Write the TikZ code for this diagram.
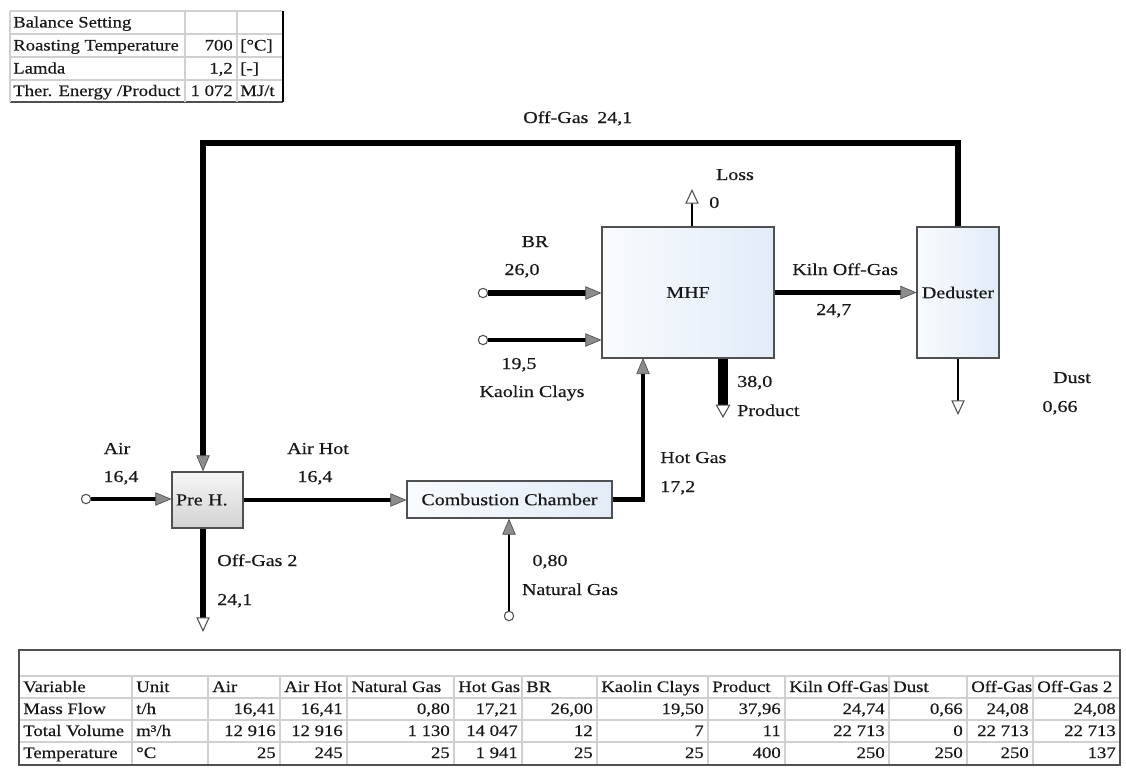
\documentclass[tikz,border=0pt]{standalone}
\usepackage{fontspec}
\setmainfont{Liberation Serif}[FakeStretch=1.2, FakeBold=0.4]
\newfontfamily\tabfont{Liberation Serif}[FakeStretch=1.17, FakeBold=0.4]
\usetikzlibrary{arrows.meta}
\definecolor{edgec}{HTML}{505050}
\definecolor{tipfill}{HTML}{8C8C8C}
\definecolor{gridc}{HTML}{D0D0D0}
\definecolor{blueL}{HTML}{F8FBFE}
\definecolor{blueR}{HTML}{E2ECF7}
\definecolor{greyT}{HTML}{F6F6F6}
\definecolor{greyB}{HTML}{D2D2D2}
\definecolor{txt}{HTML}{181818}
\begin{document}
\begin{tikzpicture}[x=0.75pt,y=-0.75pt, font=\fontsize{12.5}{14}\selectfont, text=txt,
 unitbox/.style={draw=edgec, line width=0.9pt, inner sep=0pt, left color=blueL, right color=blueR},
 greybox/.style={draw=edgec, line width=0.9pt, inner sep=0pt, top color=greyT, bottom color=greyB},
 flow/.style={draw=black, line width=#1},
 intip/.style={-{Triangle[length=12pt,width=10pt,fill=tipfill,color=edgec,line width=0.5pt]}},
 outtip/.style={-{Triangle[length=11pt,width=10pt,fill=white,color=edgec,line width=0.8pt]}},
 bigouttip/.style={-{Triangle[length=10pt,width=11pt,fill=white,color=edgec,line width=0.8pt]}},
 src/.style={circle, draw=edgec, fill=white, line width=0.8pt, minimum size=7pt, inner sep=0pt},
 lbl/.style={inner sep=0pt, text height=8pt, text depth=0.5pt},
 tlbl/.style={lbl, font=\tabfont\fontsize{12}{14}\selectfont},
]
\useasboundingbox (0,0) rectangle (1126,767);

% ---------- top-left table ----------
\foreach \yy in {11,34,57,80} \draw[gridc, line width=0.8pt] (10,\yy) -- (283,\yy);
\draw[edgec, line width=1pt] (10,102) -- (283,102);
\foreach \xx in {10,185,237} \draw[gridc, line width=0.8pt] (\xx,11) -- (\xx,102);
\draw[black, line width=1.3pt] (283,11) -- (283,102);
\node[tlbl, anchor=west] (bs) at (13,22.5) {Balance Setting};
\node[tlbl, anchor=west] (rt) at (13,45.5) {Roasting Temperature};
\node[tlbl, anchor=east] (rtv) at (233,45.5) {700};
\node[tlbl, anchor=west] (rtu) at (240,45.5) {[°C]};
\node[tlbl, anchor=west] (la) at (13,68.5) {Lamda};
\node[tlbl, anchor=east] (lav) at (233,68.5) {1,2};
\node[tlbl, anchor=west] (lau) at (240,68.5) {[-]};
\node[tlbl, anchor=west] (te) at (13,91) {Ther. Energy /Product};
\node[tlbl, anchor=east] (tev) at (233,91) {1 072};
\node[tlbl, anchor=west] (teu) at (240,91) {MJ/t};

% ---------- units ----------
\node[greybox, minimum height=42pt, text width=47.25pt, inner xsep=3pt, align=left] (preh) at (207.5,500) {Pre H.};
\node[unitbox, minimum width=153.75pt, minimum height=27.75pt] (cc) at (509.5,499.5) {Combustion Chamber};
\node[unitbox, minimum width=129pt, minimum height=98.25pt] (mhf) at (688,292.5) {MHF};
\node[unitbox, minimum width=61.5pt, minimum height=98.25pt] (dedust) at (958,292.5) {Deduster};

% ---------- sources and free ends ----------
\node[src] (air) at (86,499) {};
\node[src] (br) at (483,293) {};
\node[src] (kaolin) at (483,340) {};
\node[src] (ng) at (509,616) {};
\coordinate (topL) at (203,143);
\coordinate (og2end) at (203,632);
\coordinate (hgin) at (643,358);
\coordinate (lossend) at (692,189);
\coordinate (prodend) at (723,418);
\coordinate (dustend) at (958,415);

% ---------- connectors ----------
\draw[flow=2.6pt, intip] (air) -- (air -| preh.west);
\draw[flow=2.6pt, intip] (preh.east) -- (preh.east -| cc.west);
\draw[flow=4.5pt, intip] (dedust.north) |- (topL) -- (preh.north -| topL);
\draw[flow=4.5pt, outtip] (preh.south -| topL) -- (og2end);
\draw[flow=1.5pt, intip] (ng) -- (ng |- cc.south);
\draw[flow=3.4pt, intip] (cc.east) -| (hgin);
\draw[flow=5pt, intip] (br) -- (br -| mhf.west);
\draw[flow=3pt, intip] (kaolin) -- (kaolin -| mhf.west);
\draw[flow=1.9pt, outtip] (lossend |- mhf.north) -- (lossend);
\draw[flow=6.8pt, bigouttip] (prodend |- mhf.south) -- (prodend);
\draw[flow=3.8pt, intip] (mhf.east) -- (dedust.west);
\draw[flow=1.5pt, outtip] (dedust.south) -- (dustend);

% ---------- labels ----------
\node[lbl, anchor=west] (ogl) at (523,118) {Off-Gas};
\node[lbl, anchor=west] (ogv) at (597,118) {24,1};
\node[lbl] (lossl) at (735,175) {Loss};
\node[lbl, anchor=west] (lossv) at (709,203) {0};
\node[lbl] (brl) at (535,242) {BR};
\node[lbl] (brv) at (522,270) {26,0};
\node[lbl] (kav) at (519,364) {19,5};
\node[lbl] (kal) at (532,392) {Kaolin Clays};
\node[lbl, anchor=west] (prv) at (737,382) {38,0};
\node[lbl, anchor=west] (prl) at (737,411) {Product};
\node[lbl, anchor=west] (kol) at (792,270) {Kiln Off-Gas};
\node[lbl, anchor=west] (kov) at (816,310) {24,7};
\node[lbl] (dul) at (1072,378) {Dust};
\node[lbl] (duv) at (1060,407) {0,66};
\node[lbl, anchor=west] (hgl) at (660,458) {Hot Gas};
\node[lbl, anchor=west] (hgv) at (660,487) {17,2};
\node[lbl] (ngv) at (550,561) {0,80};
\node[lbl] (ngl) at (570,590) {Natural Gas};
\node[lbl] (airl) at (117,449) {Air};
\node[lbl] (airv) at (121,477) {16,4};
\node[lbl] (ahl) at (318,449) {Air Hot};
\node[lbl] (ahv) at (315,477) {16,4};
\node[lbl, anchor=west] (og2l) at (217,561) {Off-Gas 2};
\node[lbl, anchor=west] (og2v) at (217,600) {24,1};

% ---------- bottom table ----------
\def\colL{{19,132,208,280,347,454,522,597,708,785,889,967,1033}}
\def\colR{{132,208,280,347,454,522,597,708,785,889,967,1033,1120}}
\foreach \yy in {676,698,720,742} \draw[gridc, line width=0.8pt] (19,\yy) -- (1120,\yy);
\foreach \xx in {132,208,280,347,454,522,597,708,785,889,967,1033} \draw[gridc, line width=0.8pt] (\xx,676) -- (\xx,765);
\draw[edgec, line width=1.2pt] (19,650) rectangle (1120,765);

\foreach \t [count=\i] in {Variable,Unit,Air,Air Hot,Natural Gas,Hot Gas,BR,Kaolin Clays,Product,Kiln Off-Gas,Dust,Off-Gas,Off-Gas 2} {
  \pgfmathsetmacro\xl{\colL[\i-1]+4}
  \node[tlbl, anchor=west] (h\i) at (\xl,687) {\t};
}
\node[tlbl, anchor=west] (v1) at (23,709) {Mass Flow};
\node[tlbl, anchor=west] (v2) at (23,731) {Total Volume};
\node[tlbl, anchor=west] (v3) at (23,753) {Temperature};
\node[tlbl, anchor=west] (u1) at (136,709) {t/h};
\node[tlbl, anchor=west] (u2) at (136,731) {m³/h};
\node[tlbl, anchor=west] (u3) at (136,753) {°C};
\foreach \v [count=\i] in {{16,41},{16,41},{0,80},{17,21},{26,00},{19,50},{37,96},{24,74},{0,66},{24,08},{24,08}} {
  \pgfmathsetmacro\xr{\colR[\i+1]-4}
  \node[tlbl, anchor=east] (m\i) at (\xr,709) {\v};
}
\foreach \v [count=\i] in {12 916,12 916,1 130,14 047,12,7,11,22 713,0,22 713,22 713} {
  \pgfmathsetmacro\xr{\colR[\i+1]-4}
  \node[tlbl, anchor=east] (tv\i) at (\xr,731) {\v};
}
\foreach \v [count=\i] in {25,245,25,1 941,25,25,400,250,250,250,137} {
  \pgfmathsetmacro\xr{\colR[\i+1]-4}
  \node[tlbl, anchor=east] (tp\i) at (\xr,753) {\v};
}
\end{tikzpicture}
\end{document}
